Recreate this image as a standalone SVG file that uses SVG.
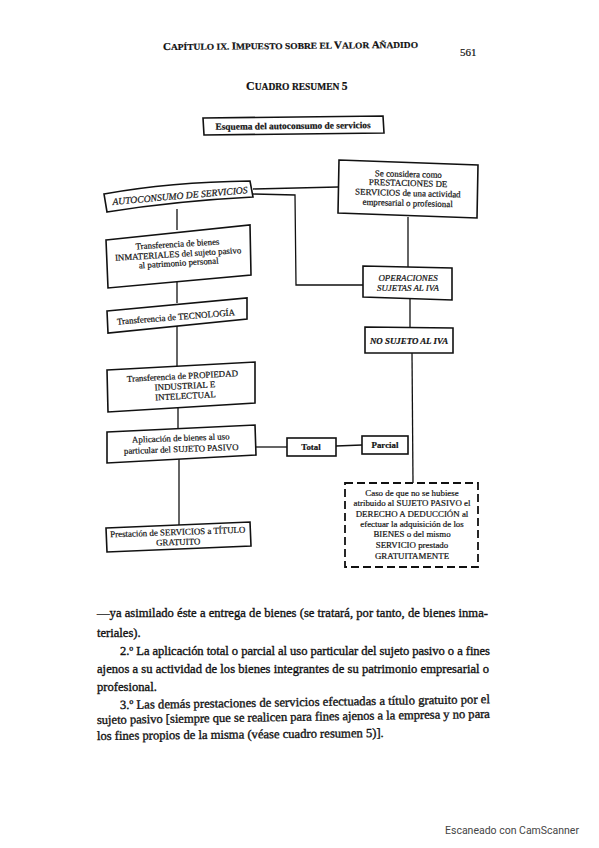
<svg xmlns="http://www.w3.org/2000/svg" width="599" height="848" viewBox="0 0 599 848">
<style>
.s{font-family:"Liberation Serif","Times New Roman",serif;fill:#111;stroke:#111;stroke-width:0.2}
.bx{fill:#fff;stroke:#111;stroke-width:1.6}
.ln{fill:none;stroke:#111;stroke-width:1.3}
.t{font-size:8.9px;text-anchor:middle}
.i{font-style:italic}
.b{font-weight:bold}
.body{font-size:12.6px;stroke-width:0.35}
</style>
<rect width="599" height="848" fill="#fff"/>
<g id="header">
<text class="s b" x="163" y="49" font-size="9" textLength="255" lengthAdjust="spacingAndGlyphs" transform="rotate(-0.5 290 47)"><tspan font-size="10.5">C</tspan>APÍTULO IX. <tspan font-size="10.5">I</tspan>MPUESTO SOBRE EL <tspan font-size="10.5">V</tspan>ALOR <tspan font-size="10.5">A</tspan>ÑADIDO</text>
<text class="s" x="460" y="56" font-size="11">561</text>
<text class="s b" x="246" y="90" font-size="9.5"><tspan font-size="12">C</tspan>UADRO RESUMEN <tspan font-size="11.5">5</tspan></text>
</g>
<g id="connectors">
<path class="ln" d="M253,189 L338,187"/>
<path class="ln" d="M253,194 L295,195 L296,285 L363,285"/>
<path class="ln" d="M177,209 L177,230"/>
<path class="ln" d="M177,282 L177,303"/>
<path class="ln" d="M177,322 L177,367"/>
<path class="ln" d="M178,406 L178,430"/>
<path class="ln" d="M179,459 L179,526"/>
<path class="ln" d="M408,217 L408,267"/>
<path class="ln" d="M410,299 L410,327"/>
<path class="ln" d="M412,353 L413,483"/>
<path class="ln" d="M256,447 L287,447"/>
<path class="ln" d="M336,446 L362,445"/>
</g>
<g id="title">
<polygon class="bx" points="203,118 383,116 384,133 204,135"/>
<text class="s b" x="293" y="129" font-size="9.4" text-anchor="middle" transform="rotate(-0.6 293 126)">Esquema del autoconsumo de servicios</text>
</g>
<g id="autoconsumo">
<path class="bx" d="M104,194 Q170,182 250,181 L253,197 Q175,201 107,212 Z"/>
<text class="s i" x="180" y="199" font-size="9.6" text-anchor="middle" transform="rotate(-5 180 196)">AUTOCONSUMO DE SERVICIOS</text>
</g>
<g id="se-considera">
<polygon class="bx" points="339,160 478,165 477,218 338,213"/>
<g transform="rotate(1.5 408 189)">
<text class="s t" x="408" y="177">Se considera como</text>
<text class="s t" x="408" y="186">PRESTACIONES DE</text>
<text class="s t" x="408" y="196">SERVICIOS de una actividad</text>
<text class="s t" x="408" y="206">empresarial o profesional</text>
</g>
</g>
<g id="operaciones">
<polygon class="bx" points="363,266 452,268 452,300 363,297"/>
<text class="s t i" x="408" y="281">OPERACIONES</text>
<text class="s t i" x="408" y="291">SUJETAS AL IVA</text>
</g>
<g id="no-sujeto">
<polygon class="bx" points="365,327 453,328 453,353 365,353"/>
<text class="s t i b" x="409" y="344" font-size="8.2">NO SUJETO AL IVA</text>
</g>
<g id="inmateriales">
<polygon class="bx" points="106,240 250,225 251,275 108,288"/>
<g transform="rotate(-3.5 178 253)">
<text class="s t" x="178" y="247">Transferencia de bienes</text>
<text class="s t" x="178" y="257">INMATERIALES del sujeto pasivo</text>
<text class="s t" x="178" y="266">al patrimonio personal</text>
</g>
</g>
<g id="tecnologia">
<polygon class="bx" points="107,311 247,298 247,319 108,333"/>
<text class="s t" x="176" y="320" font-size="9.8" transform="rotate(-4.5 176 317)">Transferencia de TECNOLOGÍA</text>
</g>
<g id="propiedad">
<polygon class="bx" points="107,370 255,362 255,403 108,412"/>
<g transform="rotate(-3 183 387)">
<text class="s t" x="183" y="379">Transferencia de PROPIEDAD</text>
<text class="s t" x="185" y="389">INDUSTRIAL E</text>
<text class="s t" x="185" y="399">INTELECTUAL</text>
</g>
</g>
<g id="aplicacion">
<polygon class="bx" points="107,432 255,425 256,455 107,463"/>
<g transform="rotate(-2 181 444)">
<text class="s t" x="181" y="441" font-size="9.6">Aplicación de bienes al uso</text>
<text class="s t" x="181" y="452" font-size="9.6">particular del SUJETO PASIVO</text>
</g>
</g>
<g id="total">
<rect class="bx" x="287" y="438" width="49" height="18"/>
<text class="s t b" x="311" y="450" font-size="8.2">Total</text>
</g>
<g id="parcial">
<rect class="bx" x="362" y="436" width="46" height="18"/>
<text class="s t b" x="385" y="448" font-size="8.2">Parcial</text>
</g>
<g id="prestacion">
<polygon class="bx" points="106,528 250,522 251,546 107,552"/>
<g transform="rotate(-2 178 538)">
<text class="s t" x="178" y="535">Prestación de SERVICIOS a TÍTULO</text>
<text class="s t" x="178" y="545">GRATUITO</text>
</g>
</g>
<g id="caso">
<rect x="345" y="483" width="133" height="84" fill="#fff" stroke="#111" stroke-width="1.8" stroke-dasharray="8,4"/>
<text class="s t" x="412" y="496">Caso de que no se hubiese</text>
<text class="s t" x="412" y="506">atribuido al SUJETO PASIVO el</text>
<text class="s t" x="412" y="517">DERECHO A DEDUCCIÓN al</text>
<text class="s t" x="412" y="527">efectuar la adquisición de los</text>
<text class="s t" x="412" y="537">BIENES o del mismo</text>
<text class="s t" x="412" y="548">SERVICIO prestado</text>
<text class="s t" x="412" y="559">GRATUITAMENTE</text>
</g>
<g id="body">
<text class="s body" x="97" y="617" textLength="391" lengthAdjust="spacing">—ya asimilado éste a entrega de bienes (se tratará, por tanto, de bienes inma-</text>
<text class="s body" x="97" y="637">teriales).</text>
<text class="s body" x="120" y="655" textLength="370" lengthAdjust="spacing">2.º La aplicación total o parcial al uso particular del sujeto pasivo o a fines</text>
<text class="s body" x="97" y="673" textLength="392" lengthAdjust="spacing">ajenos a su actividad de los bienes integrantes de su patrimonio empresarial o</text>
<text class="s body" x="97" y="691">profesional.</text>
<text class="s body" x="120" y="709" textLength="370" lengthAdjust="spacing" transform="rotate(-0.9 120 709)">3.º Las demás prestaciones de servicios efectuadas a título gratuito por el</text>
<text class="s body" x="97" y="724" textLength="393" lengthAdjust="spacing" transform="rotate(-0.9 97 724)">sujeto pasivo [siempre que se realicen para fines ajenos a la empresa y no para</text>
<text class="s body" x="97" y="740" transform="rotate(-0.6 97 740)">los fines propios de la misma (véase cuadro resumen 5)].</text>
</g>
<text x="445" y="834" font-family="Roboto,'Liberation Sans',sans-serif" font-size="10.5" fill="#444">Escaneado con CamScanner</text>
</svg>
